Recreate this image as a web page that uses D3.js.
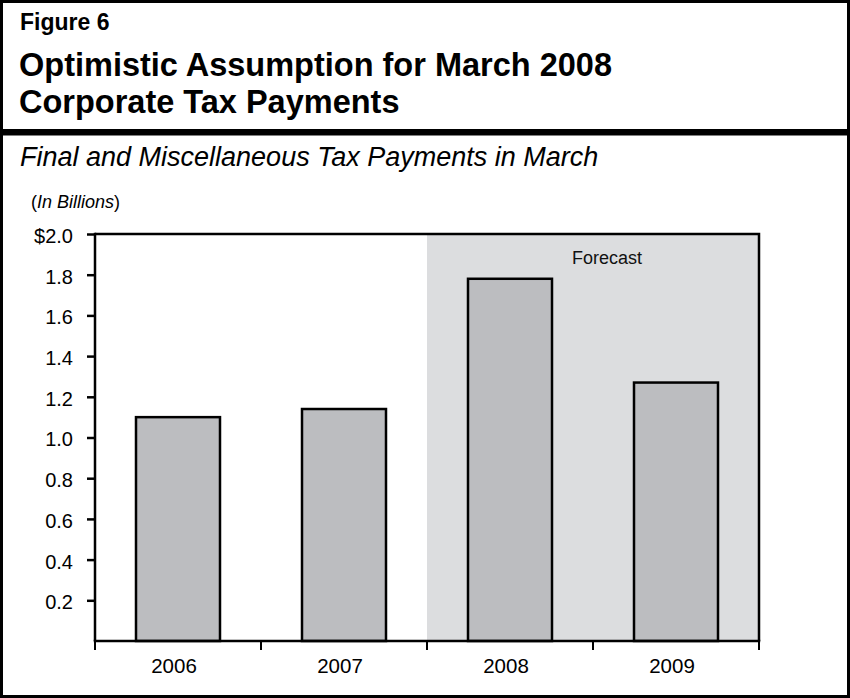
<!DOCTYPE html>
<html>
<head>
<meta charset="utf-8">
<script src="https://cdn.jsdelivr.net/npm/d3@7"></script>
<style>
  html, body { margin: 0; padding: 0; background: #fff; }
  svg { display: block; font-family: "Liberation Sans", Arial, Helvetica, sans-serif; }
</style>
</head>
<body>
<svg id="chart" width="850" height="698"></svg>
<script>
// Final and miscellaneous corporate tax payments in March (billions of dollars)
const years = ["2006", "2007", "2008", "2009"];
const payments = [1.10, 1.14, 1.78, 1.27];
const forecastYears = ["2008", "2009"];
const yTickValues = [0.2, 0.4, 0.6, 0.8, 1.0, 1.2, 1.4, 1.6, 1.8, 2.0];

const W = 850, H = 698;
const svg = d3.select("#chart");

// Outer frame
svg.append("rect")
  .attr("x", 1.5).attr("y", 1.5)
  .attr("width", W - 3).attr("height", H - 3)
  .attr("fill", "#fff").attr("stroke", "#000").attr("stroke-width", 3);

// Heading block
svg.append("text")
  .attr("x", 20).attr("y", 30)
  .attr("font-size", 23).attr("font-weight", "bold")
  .text("Figure 6");

const title = svg.append("text")
  .attr("font-size", 32.5).attr("font-weight", "bold");
title.append("tspan").attr("x", 19).attr("y", 76).text("Optimistic Assumption for March 2008");
title.append("tspan").attr("x", 19).attr("y", 113).text("Corporate Tax Payments");

svg.append("rect")
  .attr("x", 0).attr("y", 129)
  .attr("width", W).attr("height", 6.5)
  .attr("fill", "#000");

svg.append("text")
  .attr("x", 20).attr("y", 166)
  .attr("font-size", 27).attr("font-style", "italic")
  .text("Final and Miscellaneous Tax Payments in March");

const unit = svg.append("text")
  .attr("x", 31).attr("y", 208)
  .attr("font-size", 18);
unit.append("tspan").text("(");
unit.append("tspan").attr("font-style", "italic").text("In Billions");
unit.append("tspan").text(")");

// Plot area
const plot = { left: 95, right: 759, top: 234, bottom: 641 };

const x = d3.scaleBand()
  .domain(years)
  .range([plot.left, plot.right])
  .paddingInner(0.494)
  .paddingOuter(0.247);

const xSlot = d3.scaleBand()
  .domain(years)
  .range([plot.left, plot.right])
  .padding(0);

const y = d3.scaleLinear()
  .domain([0, 2.0])
  .range([plot.bottom, plot.top]);

const g = svg.append("g");

// Forecast shading
const fStart = xSlot(forecastYears[0]);
g.append("rect")
  .attr("x", fStart).attr("y", y(2.0))
  .attr("width", plot.right - fStart).attr("height", y(0) - y(2.0))
  .attr("fill", "#dcdddf");

g.append("text")
  .attr("x", fStart + (plot.right - fStart) / 2 + 14).attr("y", 264)
  .attr("text-anchor", "middle")
  .attr("font-size", 18)
  .attr("fill", "#111")
  .text("Forecast");

// Bars
g.selectAll("rect.bar")
  .data(years)
  .join("rect")
  .attr("class", "bar")
  .attr("x", d => x(d))
  .attr("y", (d, i) => y(payments[i]))
  .attr("width", x.bandwidth())
  .attr("height", (d, i) => y(0) - y(payments[i]))
  .attr("fill", "#bcbdc0")
  .attr("stroke", "#000")
  .attr("stroke-width", 2.5);

// Plot frame: top and right edges
g.append("path")
  .attr("d", `M${plot.left},${plot.top}H${plot.right}V${plot.bottom}`)
  .attr("fill", "none").attr("stroke", "#000").attr("stroke-width", 2.5);

// Y axis
const yAxis = d3.axisLeft(y)
  .tickValues(yTickValues)
  .tickSize(8)
  .tickPadding(14)
  .tickFormat(d => (d === 2.0 ? "$" : "") + d3.format(".1f")(d));

const yG = svg.append("g")
  .attr("transform", `translate(${plot.left},0)`)
  .call(yAxis);
yG.select(".domain").attr("d", `M0,${plot.top - 1.25}V${plot.bottom}`).attr("stroke-width", 2.5);
yG.selectAll(".tick line").attr("stroke-width", 2.5);
yG.selectAll(".tick text")
  .attr("font-size", 20).attr("dy", "0.42em")
  .attr("font-family", "Liberation Sans, Arial, sans-serif").attr("fill", "#000");

// X axis with ticks at slot boundaries
const bounds = years.map(d => xSlot(d)).concat([plot.right]);
const xG = svg.append("g");
xG.append("line")
  .attr("x1", plot.left - 1.25).attr("x2", plot.right + 1.25)
  .attr("y1", plot.bottom).attr("y2", plot.bottom)
  .attr("stroke", "#000").attr("stroke-width", 2.5);
xG.selectAll("line.tick")
  .data(bounds)
  .join("line")
  .attr("class", "tick")
  .attr("x1", d => d).attr("x2", d => d)
  .attr("y1", plot.bottom).attr("y2", plot.bottom + 9)
  .attr("stroke", "#000").attr("stroke-width", 2);
xG.selectAll("text")
  .data(years)
  .join("text")
  .attr("x", d => xSlot(d) + xSlot.bandwidth() / 2 - 4)
  .attr("y", 673)
  .attr("text-anchor", "middle")
  .attr("font-size", 20.5)
  .text(d => d);
</script>
</body>
</html>
